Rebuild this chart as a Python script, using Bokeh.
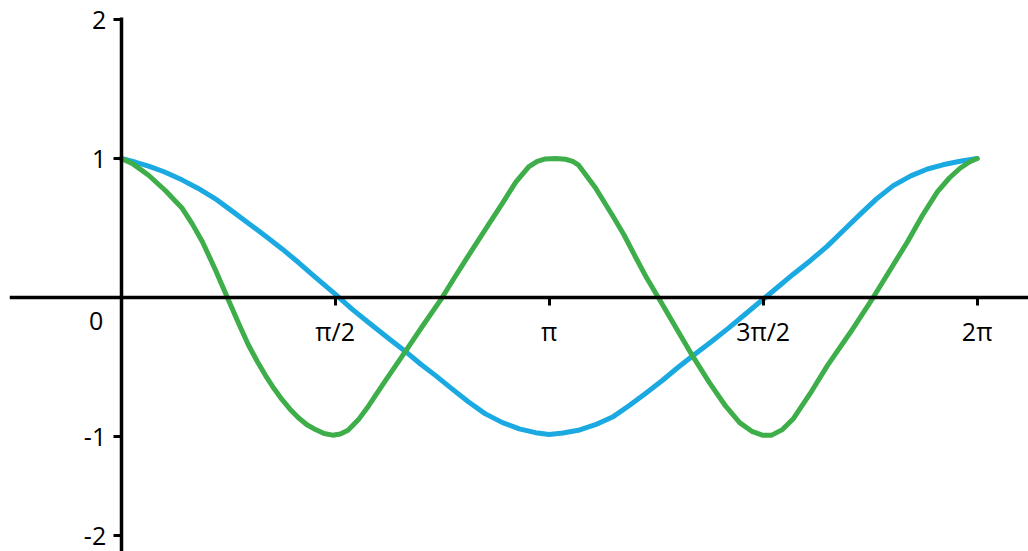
from bokeh.plotting import figure
from bokeh.models import FixedTicker, Range1d
from bokeh.core.properties import value
from bokeh.embed import file_html
from bokeh.resources import INLINE

# x in multiples of pi
blue_x = [0.000, 0.032, 0.064, 0.100, 0.143, 0.180, 0.220, 0.260, 0.297, 0.340, 0.376,
          0.415, 0.454, 0.500, 0.540, 0.578, 0.625, 0.671, 0.700, 0.734, 0.770, 0.811,
          0.850, 0.891, 0.930, 0.968, 1.000, 1.032, 1.068, 1.108, 1.148, 1.188, 1.225,
          1.265, 1.300, 1.335, 1.378, 1.419, 1.460, 1.505, 1.540, 1.571, 1.610, 1.650,
          1.690, 1.727, 1.765, 1.804, 1.845, 1.884, 1.920, 1.960, 2.000]
blue_y = [1.000, 0.975, 0.945, 0.905, 0.845, 0.785, 0.710, 0.620, 0.535, 0.435, 0.350,
          0.250, 0.145, 0.025, -0.085, -0.180, -0.295, -0.405, -0.480, -0.560, -0.650, -0.750,
          -0.835, -0.900, -0.945, -0.972, -0.985, -0.975, -0.955, -0.915, -0.860, -0.775, -0.690,
          -0.595, -0.505, -0.420, -0.320, -0.220, -0.115, 0.000, 0.090, 0.170, 0.265, 0.370,
          0.490, 0.600, 0.710, 0.805, 0.875, 0.925, 0.955, 0.980, 1.000]

green_x = [0.000, 0.028, 0.064, 0.103, 0.143, 0.166, 0.190, 0.220, 0.248, 0.275, 0.297,
           0.318, 0.338, 0.357, 0.376, 0.395, 0.414, 0.434, 0.454, 0.474, 0.494, 0.512,
           0.530, 0.554, 0.578, 0.617, 0.657, 0.703, 0.750, 0.780, 0.811, 0.851, 0.891,
           0.922, 0.952, 0.972, 0.991, 1.015, 1.038, 1.055, 1.068, 1.108, 1.148, 1.175,
           1.202, 1.228, 1.255, 1.295, 1.335, 1.374, 1.412, 1.445, 1.475, 1.498, 1.520,
           1.545, 1.571, 1.610, 1.650, 1.704, 1.757, 1.797, 1.837, 1.872, 1.907, 1.935,
           1.960, 1.982, 2.000]
green_y = [1.000, 0.960, 0.880, 0.770, 0.640, 0.530, 0.400, 0.200, 0.000, -0.190, -0.340,
           -0.460, -0.565, -0.655, -0.735, -0.805, -0.865, -0.915, -0.950, -0.978, -0.990, -0.982,
           -0.955, -0.880, -0.780, -0.600, -0.420, -0.210, 0.000, 0.150, 0.300, 0.490, 0.680,
           0.830, 0.940, 0.980, 0.997, 1.000, 0.995, 0.980, 0.955, 0.790, 0.590, 0.450,
           0.290, 0.140, 0.000, -0.210, -0.420, -0.610, -0.780, -0.900, -0.965, -0.990, -0.990,
           -0.950, -0.870, -0.690, -0.490, -0.250, 0.000, 0.200, 0.400, 0.590, 0.760, 0.860,
           0.930, 0.975, 1.000]

x_ticks = [0.5, 1.0, 1.5, 2.0]
x_tick_labels = ["π/2", "π", "3π/2", "2π"]
y_ticks = [-1.712, -1.0, 1.0, 2.0]
y_tick_labels = ["-2", "-1", "1", "2"]
origin_label = "0"

FONT = "Open Sans"

p = figure(width=1028, height=551, output_backend="svg", toolbar_location=None,
           x_range=Range1d(-0.261, 2.120), y_range=Range1d(-1.827, 2.137),
           min_border_left=9, min_border_right=0, min_border_top=0, min_border_bottom=0)
p.outline_line_color = None
p.grid.visible = False
p.background_fill_color = "white"
p.border_fill_color = "white"

p.line(blue_x, blue_y, line_color="#1BA9E1", line_width=5, line_join="round", line_cap="round")
p.line(green_x, green_y, line_color="#3DAE49", line_width=5, line_join="round", line_cap="round")

for ax in (p.xaxis[0], p.yaxis[0]):
    ax.fixed_location = 0
    ax.axis_line_width = 3.5
    ax.axis_line_color = "black"
    ax.major_tick_line_width = 3
    ax.major_tick_line_color = "black"
    ax.major_tick_in = 0
    ax.major_tick_out = 8
    ax.minor_tick_line_color = None
    ax.major_label_text_font = FONT
    ax.major_label_text_font_size = "25px"
    ax.major_label_text_color = "black"

p.xaxis.ticker = FixedTicker(ticks=x_ticks)
p.xaxis.major_label_overrides = dict(zip(x_ticks, x_tick_labels))
p.xaxis.major_label_standoff = 8
p.yaxis.ticker = FixedTicker(ticks=y_ticks)
p.yaxis.major_label_overrides = dict(zip(y_ticks, y_tick_labels))
p.yaxis.major_label_standoff = 7
p.yaxis.bounds = (-1.827, 2.014)

p.text(x=[0.0], y=[0.0], text=[origin_label], text_font=value(FONT), text_font_size="25px",
       text_color="black", text_align="center", text_baseline="middle",
       x_offset=-25, y_offset=23)

open("out.html", "w").write(file_html(p, INLINE))
